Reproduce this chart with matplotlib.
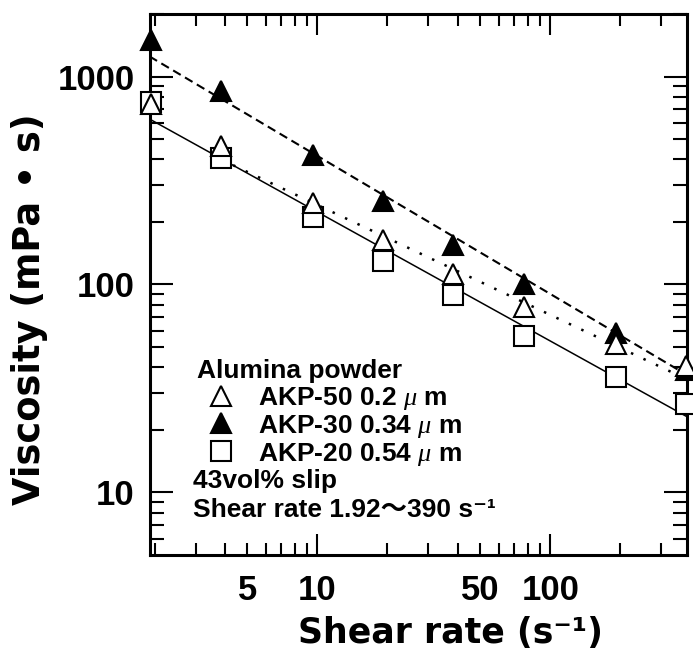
import matplotlib
matplotlib.use("Agg")
import matplotlib.pyplot as plt
from matplotlib.ticker import FixedLocator, NullFormatter, FuncFormatter

# ---------------- data ----------------
shear_rate = [1.92, 3.84, 9.6, 19.2, 38.4, 76.8, 192, 384]
visc_akp50 = [735, 461, 246, 163, 112, 77.6, 52, 40.7]
visc_akp30 = [1500, 851, 418, 252, 154, 100, 58.7, 38.6]
visc_akp20 = [752, 406, 210, 129, 89.3, 56.3, 35.8, 26.5]

# fitted power-law lines: end points
fit_x_akp30 = [1.9, 390]
fit_y_akp30 = [1250, 36.5]
fit_x_akp20 = [1.9, 390]
fit_y_akp20 = [625, 23.0]
fit_x_akp50 = [3.84, 390]
fit_y_akp50 = [400, 34.8]

labels = ["AKP-50 0.2 $\\mu$ m", "AKP-30 0.34 $\\mu$ m", "AKP-20 0.54 $\\mu$ m"]
legend_title = "Alumina powder"
note_lines = ["43vol% slip", "Shear rate 1.92\uff5e390 s\u207b\u00b9"]

x_major = [10, 100]
x_minor = [2, 3, 4, 5, 6, 7, 8, 9, 20, 30, 40, 50, 60, 70, 80, 90, 200, 300]
x_minor_labelled = [5, 50]
y_major = [10, 100, 1000]
y_minor = [6, 7, 8, 9, 20, 30, 40, 50, 60, 70, 80, 90,
           200, 300, 400, 500, 600, 700, 800, 900, 2000]

# ---------------- style ----------------
plt.rcParams['mathtext.fontset'] = 'custom'
plt.rcParams['mathtext.rm'] = 'Liberation Sans:bold'
plt.rcParams['mathtext.bf'] = 'Liberation Sans:bold'
plt.rcParams['mathtext.it'] = 'Liberation Serif:italic'

SANS = ['Liberation Sans', 'Noto Sans CJK JP', 'DejaVu Sans']
LEG_FS = 19

fig = plt.figure(figsize=(6.93, 6.5), dpi=100)
ax = fig.add_axes([0.2165, 0.1462, 0.7749, 0.8323])
ax.set_xscale('log')
ax.set_yscale('log')
ax.set_xlim(1.91, 387)
ax.set_ylim(5, 2000)

# fitted lines
ax.plot(fit_x_akp30, fit_y_akp30, color='black', lw=1.5, ls=(0, (4.2, 2.4)), zorder=2)
ax.plot(fit_x_akp20, fit_y_akp20, color='black', lw=1.1, ls='-', zorder=2)
ax.plot(fit_x_akp50, fit_y_akp50, color='black', lw=1.8, ls=(0, (1, 4.5)), zorder=2)

MS = 15
MEW = 1.5
h20, = ax.plot(shear_rate, visc_akp20, ls='none', marker='s', ms=MS, mfc='white',
               mec='black', mew=MEW, clip_on=False, zorder=3, label=labels[2])
h30, = ax.plot(shear_rate, visc_akp30, ls='none', marker='^', ms=MS, mfc='black',
               mec='black', mew=MEW, clip_on=False, zorder=4, label=labels[1])
h50, = ax.plot(shear_rate, visc_akp50, ls='none', marker='^', ms=MS, mfc='white',
               mec='black', mew=MEW, clip_on=False, zorder=5, label=labels[0])

# axes frame and ticks
for s in ax.spines.values():
    s.set_linewidth(2.2)

ax.xaxis.set_major_locator(FixedLocator(x_major))
ax.xaxis.set_minor_locator(FixedLocator(x_minor))
ax.xaxis.set_minor_formatter(FuncFormatter(
    lambda v, p: f"{v:g}" if any(abs(v - m) < 1e-9 for m in x_minor_labelled) else ""))
ax.xaxis.set_major_formatter(FuncFormatter(lambda v, p: f"{v:g}"))
ax.yaxis.set_major_locator(FixedLocator(y_major))
ax.yaxis.set_minor_locator(FixedLocator(y_minor))
ax.yaxis.set_major_formatter(FuncFormatter(lambda v, p: f"{v:g}"))
ax.yaxis.set_minor_formatter(NullFormatter())

ax.tick_params(axis='both', which='both', direction='in', top=True, right=True,
               width=1.5, labelsize=25)
ax.tick_params(axis='x', which='major', length=15, pad=14)
ax.tick_params(axis='x', which='minor', length=8.5, pad=14)
ax.tick_params(axis='y', which='major', length=16.5, pad=11)
ax.tick_params(axis='y', which='minor', length=10, pad=11)
for lab in ax.get_xticklabels(which='both') + ax.get_yticklabels(which='both'):
    lab.set_fontfamily(SANS)
    lab.set_fontweight('bold')

# axis labels
ax.set_xlabel("Shear rate (s\u207b\u00b9)", fontsize=25, fontweight='bold',
              family=['DejaVu Sans'], va='baseline')
ax.xaxis.set_label_coords(0.559, -0.163)
ax.set_ylabel("Viscosity (mPa \u2022 s)", fontsize=26.5, fontweight='bold',
              family=['DejaVu Sans'], va='baseline')
ax.yaxis.set_label_coords(-0.205, 0.455)

# legend block
ax.text(0.0875, 0.327, legend_title, transform=ax.transAxes, fontsize=LEG_FS,
        fontweight='bold', family=SANS, ha='left', va='baseline')
leg = ax.legend(handles=[h50, h30, h20], loc='upper left',
                bbox_to_anchor=(0.083, 0.3146), frameon=False, borderpad=0,
                borderaxespad=0, labelspacing=0.035, handlelength=2.0,
                handletextpad=0.40,
                prop={'family': 'Liberation Sans', 'weight': 'bold', 'size': LEG_FS})

ax.text(0.080, 0.124, note_lines[0], transform=ax.transAxes, fontsize=LEG_FS,
        fontweight='bold', family=SANS, ha='left', va='baseline')
ax.text(0.080, 0.071, note_lines[1], transform=ax.transAxes, fontsize=LEG_FS,
        fontweight='bold', family=SANS, ha='left', va='baseline')

fig.savefig("out.png", dpi=100)
